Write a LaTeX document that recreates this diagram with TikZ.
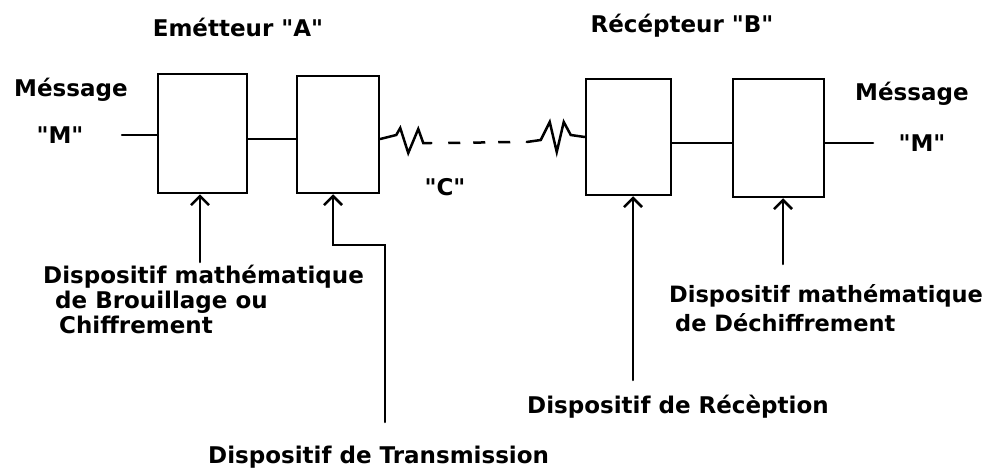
\documentclass[tikz,border=0pt]{standalone}
\usepackage{fontspec}
\setmainfont{DejaVu Sans}[Ligatures=TeXOff]
\usetikzlibrary{arrows.meta}

\begin{document}
\begin{tikzpicture}[x=1pt,y=-1pt,line cap=round,
  blk/.style={draw,line width=2.5pt,inner sep=0pt},
  wire/.style={line width=2.5pt},
  arr/.style={wire,-{Straight Barb[length=9pt,width=18pt]}},
  chan/.style={wire,line cap=butt,dash pattern=on 12pt off 13pt},
  lbl/.style={font=\bfseries\fontsize{23}{25}\selectfont,inner sep=0pt,align=left}]
  \useasboundingbox (0,0) rectangle (989,474);
  % boxes: emitter A then receiver B
  \node[blk,minimum width=89pt,minimum height=119pt] (chiff) at (202.5,133.5) {};
  \node[blk,minimum width=82pt,minimum height=117pt] (trans) at (338,134.5) {};
  \node[blk,minimum width=85pt,minimum height=116pt] (recep) at (628.5,137) {};
  \node[blk,minimum width=91pt,minimum height=118pt] (dechiff) at (778.5,138) {};
  % titles and message labels
  \node[lbl,anchor=base] (emA) at (238,36) {Emétteur "A"};
  \node[lbl,anchor=base] (recB) at (682,32) {Récépteur "B"};
  \node[lbl,anchor=base west] (msgL) at (14,96) {Méssage};
  \node[lbl,anchor=base] (mL) at (60,143) {"M"};
  \node[lbl,anchor=base west] (msgR) at (855,100) {Méssage};
  \node[lbl,anchor=base] (mR) at (922,151) {"M"};
  \node[lbl,anchor=base] (cC) at (445,195) {"C"};
  % device labels (base = baseline of the last line)
  \node[lbl,anchor=base west] (lblChiff) at (43,333)
    {Dispositif mathématique\\\hspace{12pt}de Brouillage ou\\\hspace{16pt}Chiffrement};
  \node[lbl,anchor=base west,font=\bfseries\fontsize{22.5}{29}\selectfont] (lblDech) at (669,331)
    {Dispositif mathématique\\\hspace{6pt}de Déchiffrement};
  \node[lbl,anchor=base west] (lblRec) at (527,413) {Dispositif de Récèption};
  \node[lbl,anchor=base west] (lblTrans) at (208,463) {Dispositif de Transmission};
  % signal path
  \coordinate (inL) at (122,135);
  \coordinate (outR) at (873,143);
  \draw[wire] (inL) -- (inL -| chiff.west);
  \draw[wire] (chiff.east |- 0,139) -- (trans.west |- 0,139);
  \draw[wire] (trans.east |- 0,139) -- ++(16,-4) -- ++(4,-7) -- ++(8,25) -- ++(10,-24)
    -- ++(5,14) -- ++(8,0) coordinate (chA);
  \draw[wire] (recep.west |- 0,137) -- ++(-14,-2) -- ++(-7,-13) -- ++(-7,30) -- ++(-7,-30)
    -- ++(-9,18) -- ++(-14,2) coordinate (chB);
  \draw[chan] ([xshift=17pt]chA) -- ([xshift=-13pt]chB);
  \draw[wire] (recep.east |- 0,143) -- (dechiff.west |- 0,143);
  \draw[wire] (dechiff.east |- outR) -- (outR);
  % arrows from the device labels
  \coordinate (aChiff) at (200,262);
  \coordinate (aTrans) at (385,422);
  \coordinate (tBend) at (385,245);
  \coordinate (aRec) at (633,380);
  \coordinate (aDech) at (783,264);
  \draw[arr] (aChiff) -- (aChiff |- chiff.south);
  \draw[arr] (aTrans) -- (tBend) -| ([xshift=-5pt]trans.south);
  \draw[arr] (aRec) -- (aRec |- recep.south);
  \draw[arr] (aDech) -- (aDech |- dechiff.south);
\end{tikzpicture}
\end{document}
